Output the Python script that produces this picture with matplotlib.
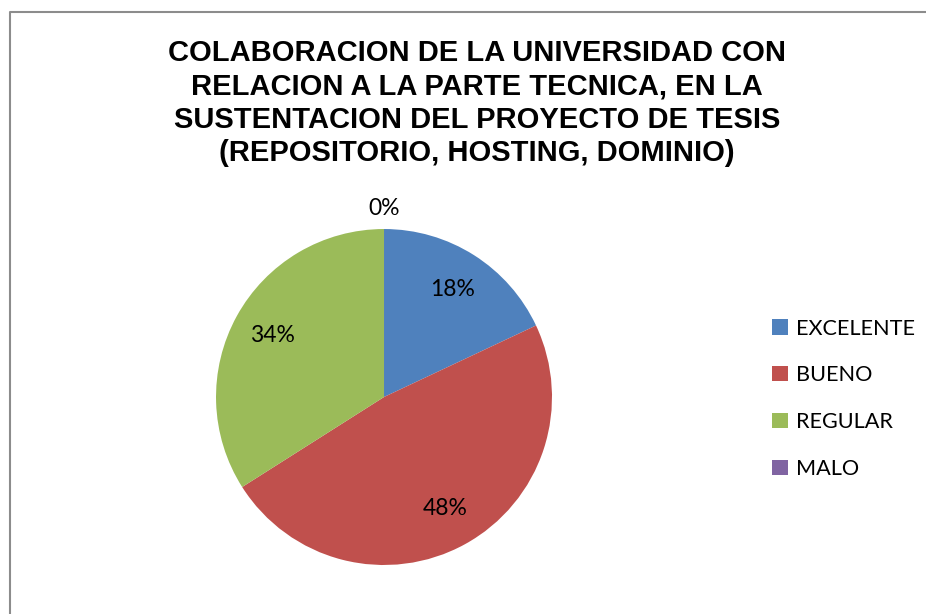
import matplotlib.pyplot as plt
from matplotlib.lines import Line2D
import numpy as np

categories = ["EXCELENTE", "BUENO", "REGULAR", "MALO"]
values = [18, 48, 34, 0]
colors = ["#4F81BD", "#C0504D", "#9BBB59", "#8064A2"]
title = ("COLABORACION DE LA UNIVERSIDAD CON\nRELACION A LA PARTE TECNICA, EN LA\n"
         "SUSTENTACION DEL PROYECTO DE TESIS\n(REPOSITORIO, HOSTING, DOMINIO)")

fig = plt.figure(figsize=(9.26, 6.14), dpi=100)
ax = fig.add_axes([0.1879, 0.0114, 0.4536, 0.684])

wedges, texts, autotexts = ax.pie(values, colors=colors, startangle=90, counterclock=False,
                                  autopct="%1.0f%%", pctdistance=0.76,
                                  textprops={"fontsize": 16.5, "family": "Lato"})
ax.set_aspect("equal")

# the empty slice gets its label outside the pie
for w, t, v in zip(wedges, autotexts, values):
    if v == 0:
        ang = np.deg2rad(w.theta1)
        t.set_position((1.12 * np.cos(ang), 1.12 * np.sin(ang)))

fig.text(0.515, 0.937, title, ha="center", va="top", fontsize=21, fontweight="bold",
         family="Liberation Sans", linespacing=1.25)

fig.legend(wedges, categories, loc="upper left", bbox_to_anchor=(0.813, 0.513),
           frameon=False, prop={"family": "Lato", "size": 15.6},
           handlelength=0.7, handleheight=0.7, handletextpad=0.4, labelspacing=1.24)

# chart frame (left and top edges visible)
fig.add_artist(Line2D([10 / 926, 10 / 926, 1.0], [0.0, 1 - 12 / 614, 1 - 12 / 614],
                      transform=fig.transFigure, color="#8c8c8c", lw=1.5))

fig.savefig("out.png", dpi=100)
